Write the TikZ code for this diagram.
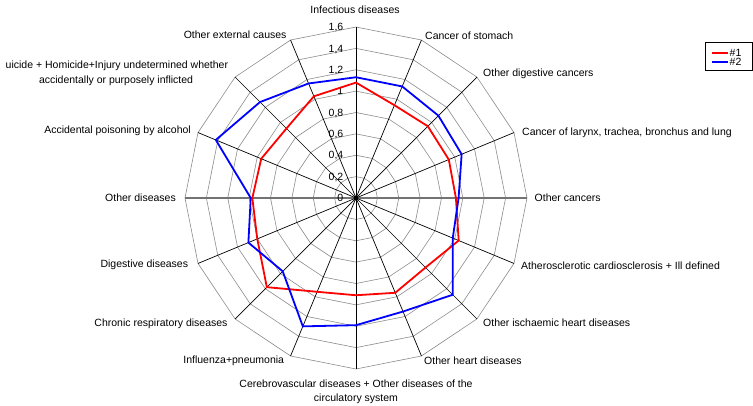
\documentclass[tikz,border=0pt]{standalone}
\usepackage{fontspec}
\setmainfont{Liberation Sans}
\begin{document}
\begin{tikzpicture}[x=1pt,y=-1pt,
  lbl/.style={font=\fontsize{10.5}{12}\selectfont, inner sep=0pt, text=black},
  ring/.style={draw=black!45, line width=0.6pt},
  spoke/.style={draw=black, line width=0.7pt},
  haxis/.style={draw=black!55, line width=1.5pt},
  vaxis/.style={draw=black, line width=0.9pt},
  serA/.style={draw=red, line width=1.8pt, line join=miter},
  serB/.style={draw=blue, line width=1.8pt, line join=miter},
]
\useasboundingbox (0,0) rectangle (753,405);
\fill[white] (0,0) rectangle (753,405);
\def\cx{356}\def\cy{198}\def\R{171}
\coordinate (O) at (\cx,\cy);
% spoke end points
\foreach \i in {0,...,15}{
  \coordinate (v\i) at ({\cx+\R*sin(\i*22.5)},{\cy-\R*cos(\i*22.5)});
}
% rings
\foreach \k in {1,...,8}{
  \pgfmathsetmacro{\rr}{\k*\R/8}
  \draw[ring] ({\cx},{\cy-\rr})
    \foreach \i in {1,...,15}{ -- ({\cx+\rr*sin(\i*22.5)},{\cy-\rr*cos(\i*22.5)}) } -- cycle;
}
% spokes
\foreach \i in {1,2,3,5,6,7,9,10,11,13,14,15}{
  \draw[spoke] (O) -- (v\i);
}
\draw[haxis] (v12) -- (v4);
\draw[vaxis] (v8) -- (v0);
\fill[black] (O) circle (2.6);
% value labels
\foreach \k/\t in {0/0,1/{0,2},2/{0,4},3/{0,6},4/{0,8},5/1,6/{1,2},7/{1,4},8/{1,6}}{
  \node[lbl, anchor=base east] (val\k) at (343.5,{\cy-\k*\R/8+3.7}) {\t};
}
% data series
\foreach \v [count=\i from 0] in {1.08,0.94,0.95,0.94,0.935,1.04,0.92,0.96,0.91,0.95,1.18,1.00,0.97,0.96,0.92,1.03}{
  \coordinate (a\i) at ({\cx+\v/1.6*\R*sin(\i*22.5)},{\cy-\v/1.6*\R*cos(\i*22.5)});
}
\foreach \v [count=\i from 0] in {1.13,1.13,1.09,1.07,0.96,0.98,1.28,1.15,1.19,1.30,0.97,1.09,0.985,1.42,1.27,1.16}{
  \coordinate (b\i) at ({\cx+\v/1.6*\R*sin(\i*22.5)},{\cy-\v/1.6*\R*cos(\i*22.5)});
}
\draw[serA] (a0) \foreach \i in {1,...,15}{ -- (a\i) } -- cycle;
\draw[serB] (b0) \foreach \i in {1,...,15}{ -- (b\i) } -- cycle;
% category labels
\node[lbl, anchor=base] (c0) at (355,13.6) {Infectious diseases};
\node[lbl, anchor=base west] (c1) at (425,39.5) {Cancer of stomach};
\node[lbl, anchor=base west] (c2) at (483,76) {Other digestive cancers};
\node[lbl, anchor=base west] (c3) at (522,135.5) {Cancer of larynx, trachea, bronchus and lung};
\node[lbl, anchor=base west] (c4) at (534.5,201) {Other cancers};
\node[lbl, anchor=base west] (c5) at (521,269.7) {Atherosclerotic cardiosclerosis + Ill defined};
\node[lbl, anchor=base west] (c6) at (483,326) {Other ischaemic heart diseases};
\node[lbl, anchor=base west] (c7) at (424,364.7) {Other heart diseases};
\node[lbl, anchor=base] (c8a) at (356,387) {Cerebrovascular diseases + Other diseases of the};
\node[lbl, anchor=base] (c8b) at (356,401) {circulatory system};
\node[lbl, anchor=base east] (c9) at (284.3,363) {Influenza+pneumonia};
\node[lbl, anchor=base east] (c10) at (227.7,326) {Chronic respiratory diseases};
\node[lbl, anchor=base east] (c11) at (188.3,267) {Digestive diseases};
\node[lbl, anchor=base east] (c12) at (176,201) {Other diseases};
\node[lbl, anchor=base east] (c13) at (191,133) {Accidental poisoning by alcohol};
\node[lbl, anchor=base east] (c14a) at (228.3,68.7) {uicide + Homicide+Injury undetermined whether};
\node[lbl, anchor=base east] (c14b) at (193.3,83.7) {accidentally or purposely inflicted};
\node[lbl, anchor=base east] (c15) at (286.7,38) {Other external causes};
% legend
\node[draw=black, line width=0.7pt, minimum width=47pt, minimum height=27.5pt, inner sep=0pt] (legend) at (728.5,56.25) {};
\coordinate (k1s) at (711.7,52.7); \coordinate (k1e) at (728,52.7);
\coordinate (k2s) at (711.7,62.3); \coordinate (k2e) at (728,62.3);
\draw[serA, line width=1.7pt] (k1s) -- (k1e);
\draw[serB, line width=1.7pt] (k2s) -- (k2e);
\node[lbl, anchor=base west] (l1) at (729.5,56.3) {\#1};
\node[lbl, anchor=base west] (l2) at (729.5,65.9) {\#2};
\end{tikzpicture}
\end{document}
